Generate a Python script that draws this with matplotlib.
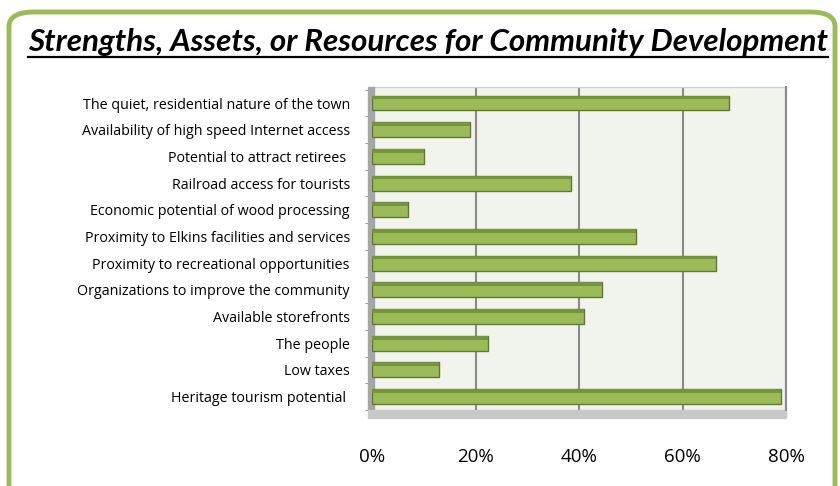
import matplotlib
matplotlib.use("Agg")
import matplotlib.pyplot as plt
from matplotlib.patches import FancyBboxPatch, Rectangle
import numpy as np

categories = [
    "Heritage tourism potential ",
    "Low taxes",
    "The people",
    "Available storefronts",
    "Organizations to improve the community",
    "Proximity to recreational opportunities",
    "Proximity to Elkins facilities and services",
    "Economic potential of wood processing",
    "Railroad access for tourists",
    "Potential to attract retirees ",
    "Availability of high speed Internet access",
    "The quiet, residential nature of the town",
]
values = [79, 13, 22.5, 41, 44.5, 66.5, 51, 7, 38.5, 10, 19, 69]
xticks = [0, 20, 40, 60, 80]
xticklabels = ["0%", "20%", "40%", "60%", "80%"]

green = "#9bbb59"
green_dark = "#76923c"
green_edge = "#5f7a2a"
title_font = ["Lato", "DejaVu Sans"]
font = ["Open Sans", "DejaVu Sans"]

fig = plt.figure(figsize=(8.4, 4.86), dpi=100)
W, H = 840, 486

# rounded green frame
frame = FancyBboxPatch((9 / W, -0.05), 826 / W, (486 - 12) / H + 0.05,
                       boxstyle="round,pad=0,rounding_size=0.03",
                       transform=fig.transFigure, fill=False,
                       edgecolor=green, linewidth=3.5)
fig.patches.append(frame)

title = fig.text(428 / W, 1 - 42 / H, "Strengths, Assets, or Resources for Community Development",
                 ha="center", va="center", fontsize=20, fontweight="bold", style="italic",
                 family=title_font)
fig.canvas.draw()
bb = title.get_window_extent()
title.set_fontsize(20 * 798 / bb.width)
fig.canvas.draw()
bb = title.get_window_extent()
fig.add_artist(plt.Line2D([bb.x0 / W, bb.x1 / W], [(bb.y0 - 1) / H, (bb.y0 - 1) / H],
                          transform=fig.transFigure, color="black", lw=1.6))

left, right = 372 / W, 786 / W
top, bottom = 1 - 87 / H, 1 - 410 / H
ax = fig.add_axes([left, bottom, right - left, top - bottom])
ax.set_facecolor("#f1f4ed")

y = np.arange(len(categories))
ax.barh(y, values, height=0.56, color=green, edgecolor=green_edge, linewidth=1, zorder=3)
ax.barh(y + 0.21, values, height=0.14, color=green_dark, linewidth=0, zorder=4)

ax.set_xlim(0, 80)
ax.set_ylim(-0.3, 11.6)
ax.set_xticks(xticks)
ax.set_xticklabels(xticklabels, fontsize=13.5, family=font)
ax.set_yticks(y)
ax.set_yticklabels(categories, fontsize=8.5, family=font)
ax.tick_params(axis="y", length=0, pad=16)
ax.tick_params(axis="x", length=4, pad=23, color="#888888")
ax.set_yticks(np.arange(-0.5, len(categories), 1), minor=True)
ax.tick_params(axis="y", which="minor", length=5, color="#888888")

# fit the category labels to the width seen in the reference
fig.canvas.draw()
widest = max(t.get_window_extent().width for t in ax.get_yticklabels())
for t in ax.get_yticklabels():
    t.set_fontsize(8.5 * 272 / widest)

ax.grid(axis="x", color="#8a8a8a", linewidth=1.5, zorder=1)
for s in ["top", "left", "bottom"]:
    ax.spines[s].set_visible(False)
ax.spines["right"].set_color("#8a8a8a")
ax.spines["right"].set_linewidth(1.5)
ax.plot([0, 1], [1, 1], transform=ax.transAxes, color="#cfcfcf", lw=1, clip_on=False)

# side wall and floor
ax.add_patch(Rectangle((-0.01, 0), 0.016, 1, transform=ax.transAxes,
                       color="#a6a6a6", clip_on=False, zorder=2))
ax.add_patch(Rectangle((-0.01, -0.025), 1.01, 0.025, transform=ax.transAxes,
                       color="#c8c8c8", clip_on=False, zorder=2))

plt.savefig("out.png", dpi=100)
